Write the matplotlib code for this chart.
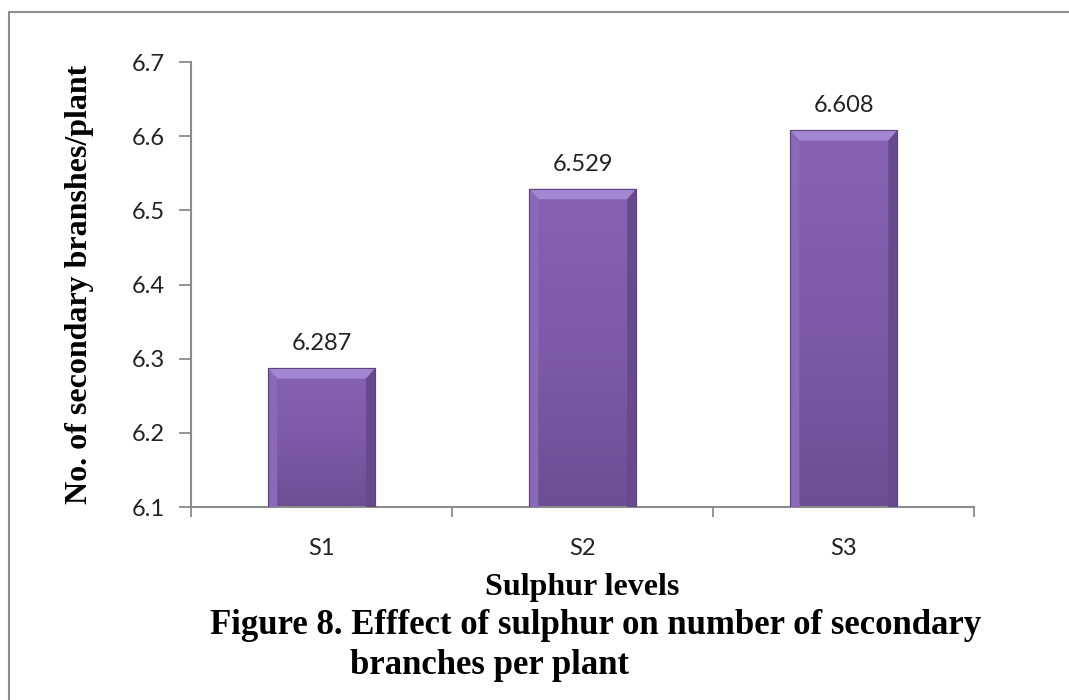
import numpy as np
import matplotlib.pyplot as plt
from matplotlib.patches import Rectangle, Polygon
from matplotlib.colors import LinearSegmentedColormap

# sulphur levels and mean number of secondary branches per plant
levels = ['S1', 'S2', 'S3']
branches = [6.287, 6.529, 6.608]
yticks = [6.1, 6.2, 6.3, 6.4, 6.5, 6.6, 6.7]

fig = plt.figure(figsize=(10.69, 7.0), dpi=100)
ax = fig.add_axes([0.1787, 0.2757, 0.7328, 0.6357])

x = np.arange(len(levels))
width = 0.41
base = 6.1
bars = ax.bar(x, np.array(branches) - base, width, bottom=base,
              color='#7B59A5', edgecolor='#5E447F', linewidth=0.8, zorder=2)

# vertical shading inside each bar
shade = LinearSegmentedColormap.from_list('shade', ['#6C4E93', '#7D5BA8', '#8762B3'])
grad = np.linspace(0, 1, 256).reshape(-1, 1)
for b, v in zip(bars, branches):
    x0 = b.get_x()
    im = ax.imshow(grad, cmap=shade, aspect='auto', origin='lower',
                   extent=(x0, x0 + width, base, v), zorder=2.5)
    im.set_clip_path(b)
    # bevelled top and side edges
    dx, dy = 0.035, 0.014
    ax.add_patch(Polygon([(x0, v), (x0 + width, v), (x0 + width - dx, v - dy), (x0 + dx, v - dy)],
                         closed=True, facecolor='#A487D3', edgecolor='none', zorder=3))
    ax.add_patch(Polygon([(x0, v), (x0 + dx, v - dy), (x0 + dx, base), (x0, base)],
                         closed=True, facecolor='#8A6AB8', edgecolor='none', zorder=3))
    ax.add_patch(Polygon([(x0 + width, v), (x0 + width - dx, v - dy), (x0 + width - dx, base), (x0 + width, base)],
                         closed=True, facecolor='#664A8C', edgecolor='none', zorder=3))
    ax.add_patch(Rectangle((x0, base), width, v - base, fill=False,
                           edgecolor='#5E447F', linewidth=0.8, zorder=3.5))
    ax.annotate(f'{v:.3f}', (x0 + width / 2, v), xytext=(0, 10), textcoords='offset points',
                ha='center', va='bottom', fontsize=17, family='Lato', color='#222222')

ax.set_xlim(-0.5, len(levels) - 0.5)
ax.set_ylim(6.1, 6.7)
ax.set_yticks(yticks)
ax.set_yticklabels([f'{t:.1f}' for t in yticks])
ax.set_xticks(x)
ax.set_xticklabels(levels)
ax.set_xticks(np.arange(-0.5, len(levels)), minor=True)

for s in ['top', 'right']:
    ax.spines[s].set_visible(False)
for s in ['left', 'bottom']:
    ax.spines[s].set_color('#8C8C8C')
    ax.spines[s].set_linewidth(1.5)

ax.tick_params(axis='y', direction='out', length=9, width=1.3, color='#8C8C8C',
               labelsize=17, pad=10, labelcolor='#222222')
ax.tick_params(axis='x', which='major', length=0, labelsize=17, pad=22, labelcolor='#222222')
ax.tick_params(axis='x', which='minor', direction='out', length=7, width=1.3, color='#8C8C8C')
for lbl in ax.get_xticklabels() + ax.get_yticklabels():
    lbl.set_family('Lato')

fig.text(80 / 1069, 0.5936, 'No. of secondary branshes/plant', rotation=90,
         ha='center', va='center', fontsize=23, fontweight='bold', family='Liberation Serif')
fig.text(582 / 1069, 1 - 588 / 700, 'Sulphur levels', ha='center', va='center',
         fontsize=23, fontweight='bold', family='Liberation Serif')
fig.text(210 / 1069, 1 - 626 / 700, 'Figure 8. Efffect of sulphur on number of secondary',
         ha='left', va='center', fontsize=25, fontweight='bold', family='Liberation Serif')
fig.text(350 / 1069, 1 - 666 / 700, 'branches per plant',
         ha='left', va='center', fontsize=25, fontweight='bold', family='Liberation Serif')

# outer frame of the figure panel
fig.patches.append(Rectangle((9 / 1069, -0.05), 1.2, 1 - 12 / 700 + 0.05, transform=fig.transFigure,
                             fill=False, edgecolor='#8C8C8C', linewidth=1.5))

fig.savefig('out.png', dpi=100)
